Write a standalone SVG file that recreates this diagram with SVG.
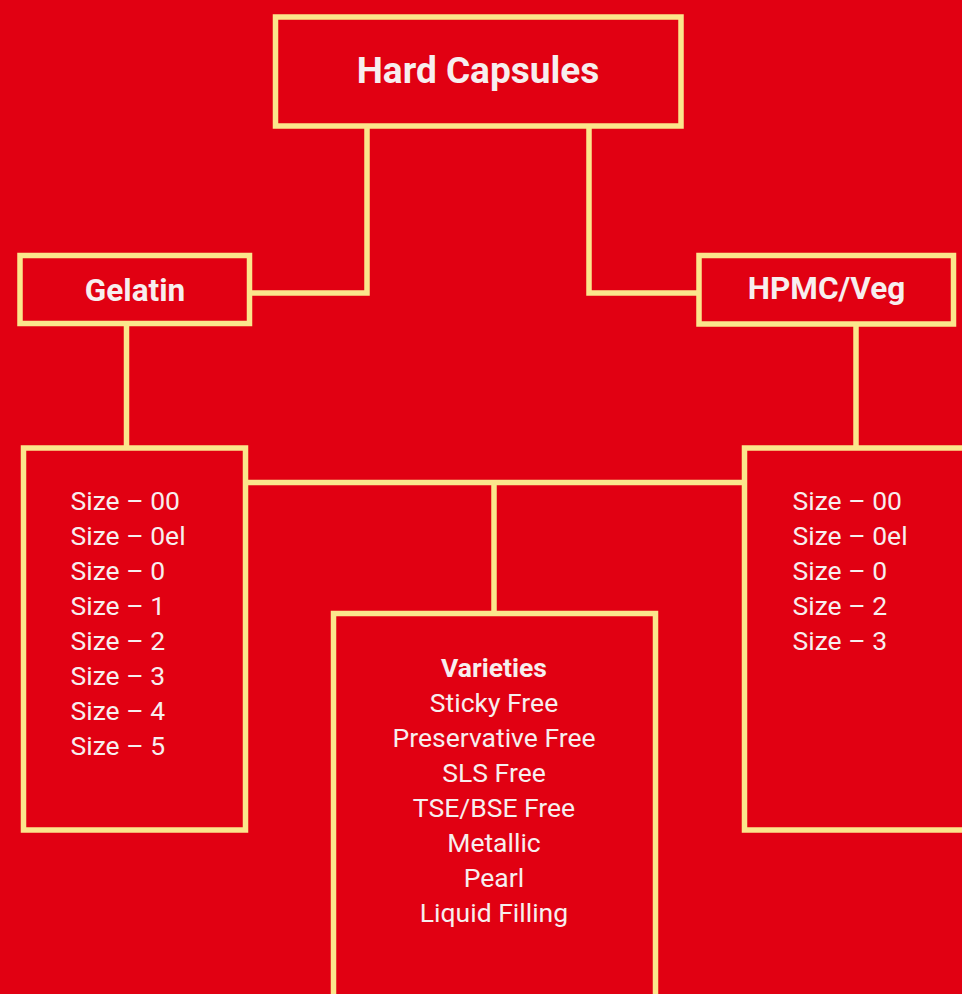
<svg xmlns="http://www.w3.org/2000/svg" width="962" height="994" viewBox="0 0 962 994">
<style>
.box{fill:#e10012;stroke:#fbe68c;stroke-width:5.5}
.ln{fill:none;stroke:#fbe68c;stroke-width:5.5}
.t{font-family:Roboto,"Liberation Sans",sans-serif;fill:#f7eeee}
.b{font-weight:bold}
.s{font-size:26.5px}
</style>
<rect width="962" height="994" fill="#e10012"/>
<g id="connectors">
<polyline class="ln" points="367,126 367,293 252,293"/>
<polyline class="ln" points="589,126 589,293 699,293"/>
<line class="ln" x1="126.5" y1="323.5" x2="126.5" y2="448"/>
<line class="ln" x1="856" y1="324" x2="856" y2="448"/>
<line class="ln" x1="245.5" y1="482.5" x2="744.5" y2="482.5"/>
<line class="ln" x1="494" y1="482.5" x2="494" y2="613.5"/>
</g>
<g id="hard-capsules">
<rect class="box" x="275.5" y="17" width="405.5" height="109"/>
<text class="t b" x="478" y="83" font-size="37" text-anchor="middle">Hard Capsules</text>
</g>
<g id="gelatin">
<rect class="box" x="20" y="255.5" width="229.5" height="68"/>
<text class="t b" x="135" y="301" font-size="31.5" text-anchor="middle">Gelatin</text>
</g>
<g id="hpmc">
<rect class="box" x="699" y="255.5" width="254.5" height="68.5"/>
<text class="t b" x="826.5" y="299" font-size="31.5" text-anchor="middle">HPMC/Veg</text>
</g>
<g id="gelatin-sizes">
<rect class="box" x="23.5" y="448" width="222" height="382"/>
<text class="t s" x="70.5" y="510">Size – 00</text>
<text class="t s" x="70.5" y="545">Size – 0el</text>
<text class="t s" x="70.5" y="580">Size – 0</text>
<text class="t s" x="70.5" y="615">Size – 1</text>
<text class="t s" x="70.5" y="650">Size – 2</text>
<text class="t s" x="70.5" y="685">Size – 3</text>
<text class="t s" x="70.5" y="720">Size – 4</text>
<text class="t s" x="70.5" y="755">Size – 5</text>
</g>
<g id="hpmc-sizes">
<rect class="box" x="744.5" y="448" width="260" height="382"/>
<text class="t s" x="792.5" y="510">Size – 00</text>
<text class="t s" x="792.5" y="545">Size – 0el</text>
<text class="t s" x="792.5" y="580">Size – 0</text>
<text class="t s" x="792.5" y="615">Size – 2</text>
<text class="t s" x="792.5" y="650">Size – 3</text>
</g>
<g id="varieties">
<rect class="box" x="333.5" y="613.5" width="322" height="420"/>
<text class="t s b" x="494" y="677" text-anchor="middle">Varieties</text>
<text class="t s" x="494" y="712" text-anchor="middle">Sticky Free</text>
<text class="t s" x="494" y="747" text-anchor="middle">Preservative Free</text>
<text class="t s" x="494" y="782" text-anchor="middle">SLS Free</text>
<text class="t s" x="494" y="817" text-anchor="middle">TSE/BSE Free</text>
<text class="t s" x="494" y="852" text-anchor="middle">Metallic</text>
<text class="t s" x="494" y="887" text-anchor="middle">Pearl</text>
<text class="t s" x="494" y="922" text-anchor="middle">Liquid Filling</text>
</g>
</svg>
